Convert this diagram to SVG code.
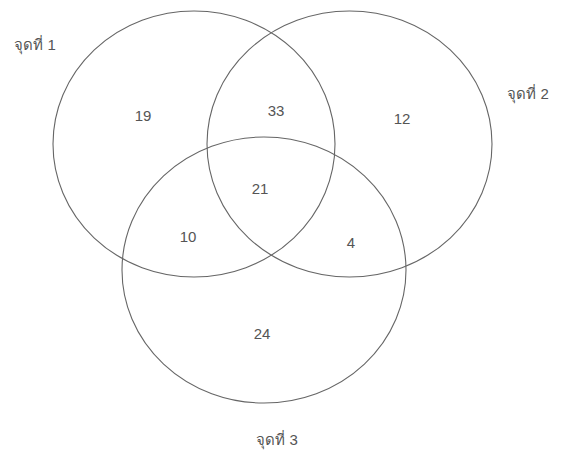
<svg xmlns="http://www.w3.org/2000/svg" width="561" height="460" viewBox="0 0 561 460">
<style>
.c{fill:none;stroke:#666;stroke-width:1.1}
.n{font-family:"Liberation Sans","DejaVu Sans","Noto Sans",sans-serif;font-size:15px;fill:#555;text-anchor:middle}
.l{font-family:"Liberation Sans","DejaVu Sans","Noto Sans",sans-serif;font-size:15px;fill:#555;text-anchor:middle}
</style>
<rect width="561" height="460" fill="#fff"/>
<g id="set1"><ellipse class="c" cx="194" cy="144" rx="141" ry="133"/><text class="l" x="35" y="50">จุดที่ 1</text></g>
<g id="set2"><ellipse class="c" cx="349.5" cy="144" rx="142.5" ry="133"/><text class="l" x="528" y="99">จุดที่ 2</text></g>
<g id="set3"><ellipse class="c" cx="264" cy="270" rx="142" ry="133"/><text class="l" x="277" y="445">จุดที่ 3</text></g>
<g id="regions">
<text class="n" x="143" y="121">19</text>
<text class="n" x="276" y="116">33</text>
<text class="n" x="402" y="124">12</text>
<text class="n" x="260" y="194">21</text>
<text class="n" x="188" y="242">10</text>
<text class="n" x="351" y="248">4</text>
<text class="n" x="262" y="339">24</text>
</g>
<g id="connectors"/>
</svg>
